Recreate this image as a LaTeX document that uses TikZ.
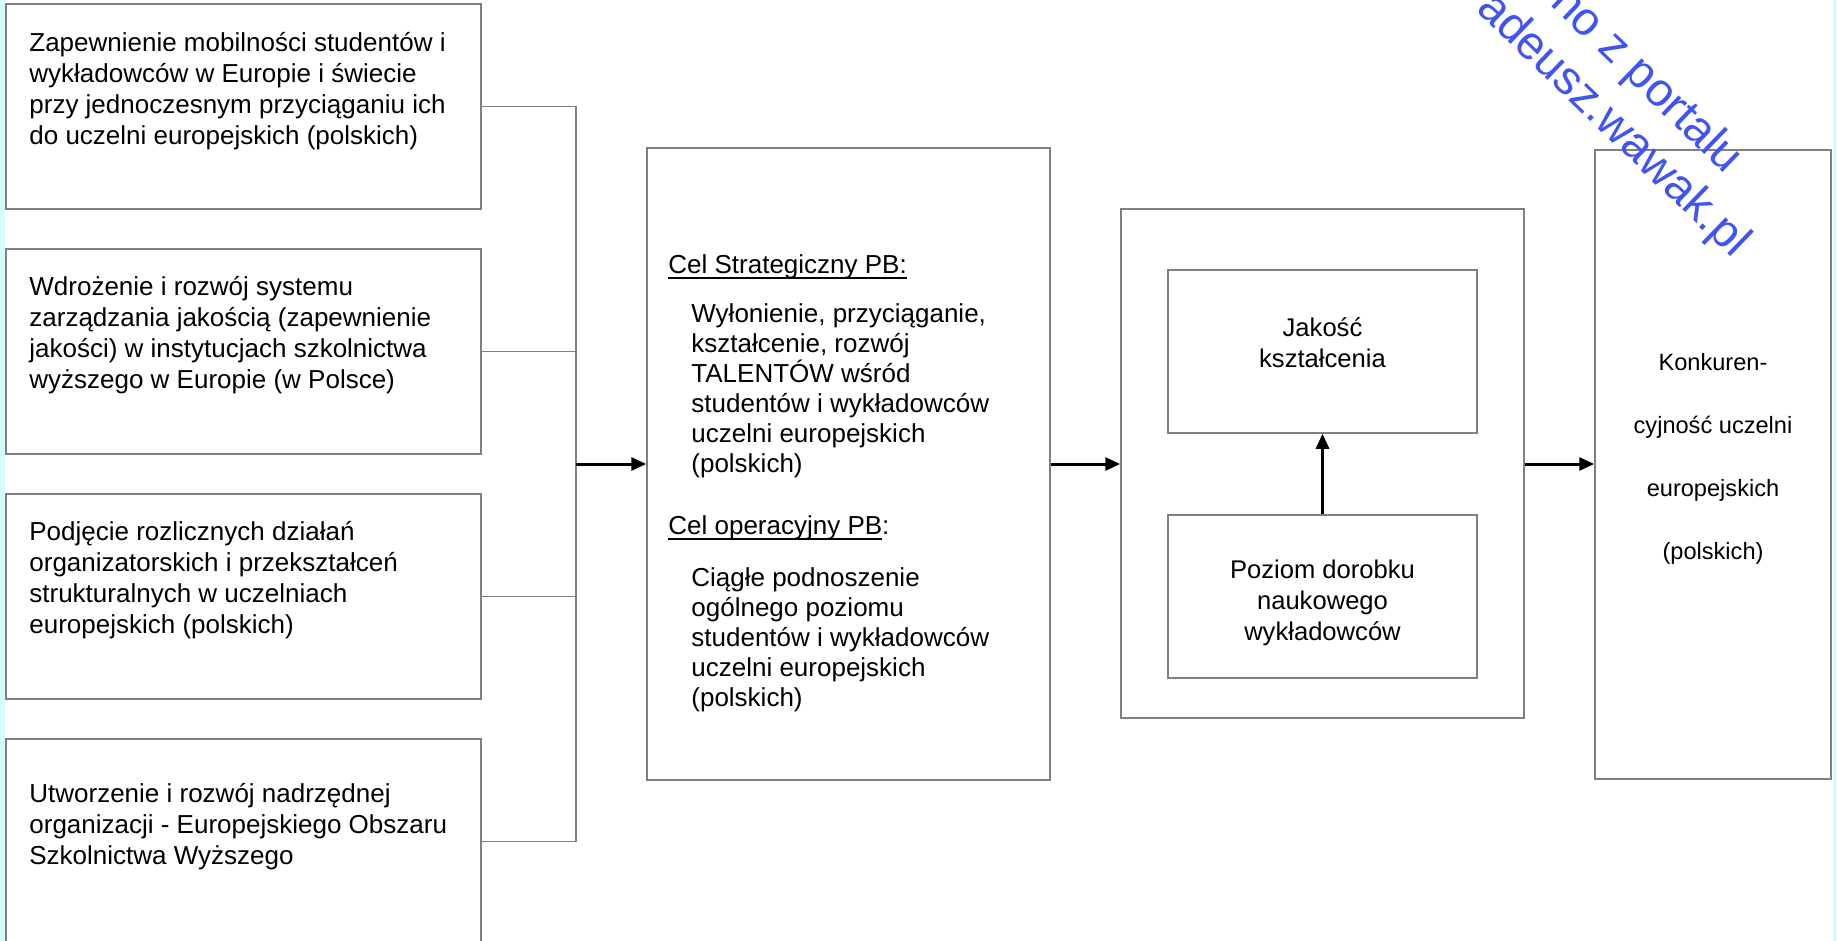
\documentclass[tikz,border=0pt]{standalone}
\usepackage{fontspec}
\setmainfont{Liberation Sans}
\usetikzlibrary{arrows.meta}
\definecolor{boxgray}{RGB}{128,128,128}
\definecolor{wmblue}{RGB}{64,84,242}
\definecolor{edgecyan}{RGB}{212,252,252}
% underline sitting just under the baseline
\newcommand{\undl}[1]{\setbox0\hbox{#1}\rlap{\rule[-2.4pt]{\wd0}{0.6pt}}\box0}
\begin{document}
\begin{tikzpicture}[x=0.5pt, y=-0.5pt,
    box/.style={draw=boxgray, line width=0.75pt, inner sep=0pt},
    aimbox/.style={box, minimum width=237.5pt, minimum height=102.5pt},
    innerbox/.style={box, minimum width=154.5pt, minimum height=81.5pt},
    txt/.style={inner sep=0pt, align=left, font=\fontsize{13pt}{15.5pt}\selectfont},
    ctxt/.style={txt, align=center},
    link/.style={draw=boxgray, line width=0.75pt},
    flow/.style={line width=1.5pt, -{Triangle[length=7.5pt, width=6.5pt]}},
    wm/.style={inner sep=0pt, rotate=-44, text=wmblue, font=\fontsize{23.5pt}{28pt}\selectfont}]
    \useasboundingbox (0,0) rectangle (1837,941);
    \clip (0,0) rectangle (1837,941);
    \fill[edgecyan] (0,0) rectangle (5,941);
    \fill[edgecyan] (1833,0) rectangle (1837,941);
    % four aims on the left
    \node[aimbox] (aim1) at (243.5,106.5) {};
    \node[aimbox] (aim2) at (243.5,351.5) {};
    \node[aimbox] (aim3) at (243.5,596.5) {};
    \node[aimbox] (aim4) at (243.5,841.5) {};
    \node[txt, anchor=west] (aimtxt1) at (29,91.5) {Zapewnienie mobilności studentów i\\wykładowców w Europie i świecie\\przy jednoczesnym przyciąganiu ich\\do uczelni europejskich (polskich)};
    \node[txt, anchor=west] (aimtxt2) at (29,335) {Wdrożenie i rozwój systemu\\zarządzania jakością (zapewnienie\\jakości) w instytucjach szkolnictwa\\wyższego w Europie (w Polsce)};
    \node[txt, anchor=west] (aimtxt3) at (29,580) {Podjęcie rozlicznych działań\\organizatorskich i przekształceń\\strukturalnych w uczelniach\\europejskich (polskich)};
    \node[txt, anchor=west] (aimtxt4) at (29,827) {Utworzenie i rozwój nadrzędnej\\organizacji - Europejskiego Obszaru\\Szkolnictwa Wyższego};
    % bus joining the aims
    \coordinate (bus) at (576,464);
    \draw[link] (aim1.east) -- (aim1.east -| bus) -- (aim4.east -| bus) -- (aim4.east);
    \draw[link] (aim2.east) -- (aim2.east -| bus);
    \draw[link] (aim3.east) -- (aim3.east -| bus);
    % goals of PB
    \node[box, minimum width=201.5pt, minimum height=316pt] (goal) at (848.5,464) {};
    \node[txt, anchor=west] (goalhead1) at (668,267) {\undl{Cel Strategiczny PB:}};
    \node[txt, anchor=west, font=\fontsize{13pt}{15pt}\selectfont] (goaltxt1) at (691,390.5) {Wyłonienie, przyciąganie,\\kształcenie, rozwój\\TALENTÓW wśród\\studentów i wykładowców\\uczelni europejskich\\(polskich)};
    \node[txt, anchor=west] (goalhead2) at (668,528) {\undl{Cel operacyjny PB}:};
    \node[txt, anchor=west, font=\fontsize{13pt}{15pt}\selectfont] (goaltxt2) at (691,639.5) {Ciągłe podnoszenie\\ogólnego poziomu\\studentów i wykładowców\\uczelni europejskich\\(polskich)};
    % quality core
    \node[box, minimum width=201.5pt, minimum height=254.5pt] (core) at (1322.5,463.5) {};
    \node[innerbox] (quality) at (1322.5,351.5) {};
    \node[innerbox] (level) at (1322.5,596.5) {};
    \node[ctxt, font=\fontsize{12.8pt}{15.5pt}\selectfont] (qualitytxt) at (1322.5,343) {Jakość\\kształcenia};
    \node[ctxt, font=\fontsize{12.8pt}{15.5pt}\selectfont] (leveltxt) at (1322.5,603) {Poziom dorobku\\naukowego\\wykładowców};
    % competitiveness
    \node[box, minimum width=118pt, minimum height=314.5pt] (compet) at (1713,464.5) {};
    \node[ctxt, font=\fontsize{11.8pt}{31.5pt}\selectfont] (competxt) at (1713,459) {Konkuren-\\cyjność uczelni\\europejskich\\(polskich)};
    % arrows
    \draw[flow] (bus) -- (goal.west |- bus);
    \draw[flow] (goal.east) -- (core.west |- goal.east);
    \draw[flow] (core.east |- goal.east) -- (compet.west |- goal.east);
    \draw[flow] (level.north) -- (quality.south);
    % watermark
    \node[wm, anchor=base east] (wm1) at (1726,175) {no z portalu};
    \node[wm, anchor=base east] (wm2) at (1733,259) {adeusz.wawak.pl};
\end{tikzpicture}
\end{document}
